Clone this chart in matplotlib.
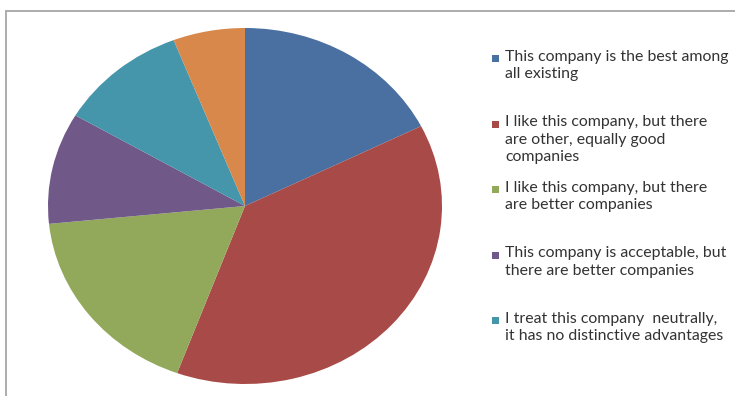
import numpy as np
import matplotlib.pyplot as plt
from matplotlib.patches import Rectangle

# share of answers, clockwise from 12 o'clock
valores = [17.6, 38.0, 17.8, 10.1, 10.6, 5.9]
cores = ['#4A70A2', '#A84A47', '#92A85A', '#705888', '#4595AB', '#D7884A']
# the legend only shows the first five answers (the picture is cut off)
rotulos = [
    'This company is the best among\nall existing',
    'I like this company, but there\nare other, equally good\ncompanies',
    'I like this company, but there\nare better companies',
    'This company is acceptable, but\nthere are better companies',
    'I treat this company  neutrally,\nit has no distinctive advantages',
]

W, H = 735, 396
fig = plt.figure(figsize=(W / 100, H / 100), dpi=100)
plt.rcParams['font.family'] = ['Lato', 'DejaVu Sans']

# moldura cinzenta do grafico (cortada a direita e em baixo)
fig.patches.append(Rectangle((5.5 / W, -0.1), 2, (H - 10.5) / H + 0.1, transform=fig.transFigure,
                             fill=False, edgecolor='#A6A6A6', linewidth=1.3))

# pie esticado (elipse), como no original
ax = fig.add_axes([48 / W, (H - 384) / H, 394 / W, 356 / H])
ax.pie(valores, colors=cores, startangle=90, counterclock=False,
       wedgeprops=dict(linewidth=0))
ax.set_aspect('auto')
ax.set_xlim(-1, 1)
ax.set_ylim(-1, 1)
ax.axis('off')

# legenda desenhada a mao
for i, txt in enumerate(rotulos):
    topo = 53 + i * 65.5
    fig.patches.append(Rectangle((491.5 / W, 1 - (topo + 9) / H), 7 / W, 7 / H,
                                 transform=fig.transFigure, facecolor=cores[i], edgecolor='none'))
    fig.text(505 / W, 1 - (topo - 3.5) / H, txt, ha='left', va='top', fontsize=11.4,
             color='#333333', linespacing=1.33)

fig.savefig('out.png', dpi=100)
